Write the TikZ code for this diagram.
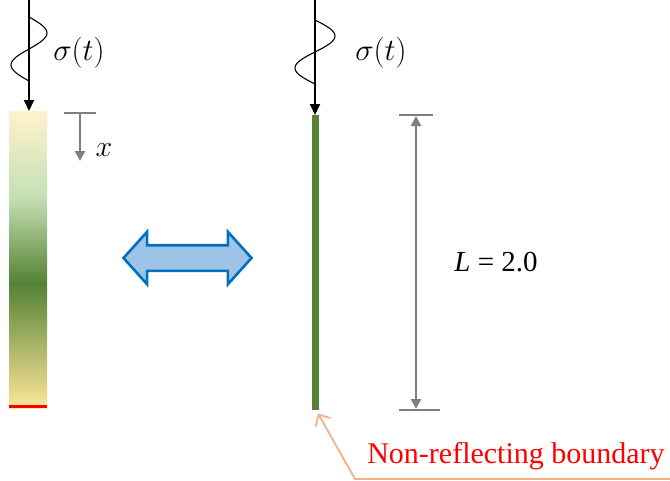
\RequirePackage{fix-cm}
\documentclass[tikz,border=0pt]{standalone}
\usepackage{fontspec}
\newfontfamily\timesfont{Liberation Serif}
\usepackage{xcolor}
\usepackage{tikz}
\usetikzlibrary{arrows.meta,positioning,shapes.arrows,calc}
\definecolor{barpale}{HTML}{FFF2CC}
\definecolor{barlight}{HTML}{C5E0B4}
\definecolor{bardark}{HTML}{548235}
\definecolor{baryellow}{HTML}{FFE699}
\definecolor{dimgray}{HTML}{7F7F7F}
\definecolor{eqfill}{HTML}{9DC3E6}
\definecolor{eqline}{HTML}{0070C0}
\definecolor{callorange}{HTML}{F4B183}
\pgfdeclareverticalshading{barshade}{100bp}{%
  color(0bp)=(baryellow); color(25bp)=(baryellow);
  color(46bp)=(bardark); color(60.5bp)=(barlight);
  color(75bp)=(barpale); color(100bp)=(barpale)}
\tikzset{
  sig/.style={-{Triangle[length=11pt,width=10pt]}, draw=black, line width=2pt},
  wave/.style={draw=black, line width=1.1pt},
  siglbl/.style={font=\fontsize{31}{34}\selectfont, inner sep=0pt},
  dimline/.style={{Triangle[length=10pt,width=10pt]}-{Triangle[length=10pt,width=10pt]},
                  draw=dimgray, line width=2.6pt},
  dimbar/.style={draw=dimgray, line width=2.8pt},
  ruler/.style={-{Triangle[length=10pt,width=10pt]}, draw=dimgray, line width=2.6pt},
  rod/.style={rectangle, fill=bardark, inner sep=0pt, minimum width=7pt},
  callout/.style={-{Straight Barb[length=9pt,width=17pt]}, draw=callorange, line width=1.8pt},
}

\begin{document}
\begin{tikzpicture}[x=1pt,y=1pt]
\useasboundingbox (0,0) rectangle (670,-480);

% ---------- graded bar ----------
\node[rectangle, shading=barshade, inner sep=0pt, minimum width=38pt,
      minimum height=297pt, anchor=north west] (bar) at (9,-111) {};
\draw[red, line width=3pt] ([yshift=1.5pt]bar.south west) -- ([yshift=1.5pt]bar.south east);

\coordinate (srcL) at (29,0);
\draw[sig] (srcL) -- (bar.north -| srcL);
\draw[wave] plot[domain=0:360, samples=49, smooth] ({29+18*sin(\x)}, {-17-\x/360*64});
\node[siglbl] (sigL) at (79,-53) {$\sigma(t)$};

\coordinate (xtop) at (80,-113);
\draw[dimbar] ($(xtop)+(-16,0)$) -- ($(xtop)+(16,0)$);
\draw[ruler] (xtop) -- ++(0,-48) coordinate (xbot);
\node[font=\fontsize{30}{32}\selectfont, inner sep=0pt] (xlbl) at (104,-150) {$x$};

% ---------- equivalence ----------
\node[double arrow, draw=eqline, fill=eqfill, line width=2.6pt,
      minimum height=128pt, inner xsep=0pt, inner ysep=11.5pt,
      double arrow head extend=13.5pt, double arrow tip angle=96] (eq) at (187.5,-258) {};

% ---------- rod ----------
\node[rod, minimum height=295pt, anchor=north] (rod) at (315,-115) {};
\coordinate (srcR) at (315,0);
\draw[sig] (srcR) -- (rod.north);
\draw[wave] plot[domain=0:360, samples=49, smooth] ({315+20*sin(\x)}, {-20-\x/360*64});
\node[siglbl] (sigR) at (381,-53) {$\sigma(t)$};

% ---------- length ----------
\coordinate (dimT) at (416,-115);
\coordinate (dimB) at (416,-410);
\draw[dimbar] ($(dimT)+(-17,0)$) -- ($(dimT)+(17,0)$);
\draw[dimbar] ($(dimB)+(-17,0)$) -- ($(dimB)+(24,0)$);
\draw[dimline] ([yshift=-1pt]dimT) -- ([yshift=1pt]dimB);
\node[font=\timesfont\fontsize{29}{32}\selectfont, inner sep=0pt] (len) at (496,-262)
  {{\itshape L} = 2.0};

% ---------- boundary ----------
\node[font=\timesfont\fontsize{30}{32}\selectfont, text=red, inner sep=0pt] (nrb) at (516,-456)
  {Non-reflecting boundary};
\coordinate (callEnd) at (670,-479);
\coordinate (callKnee) at (355,-479);
\draw[callout] (callEnd) -- (callKnee) -- ($(rod.south)+(3,-3)$);
\end{tikzpicture}
\end{document}
